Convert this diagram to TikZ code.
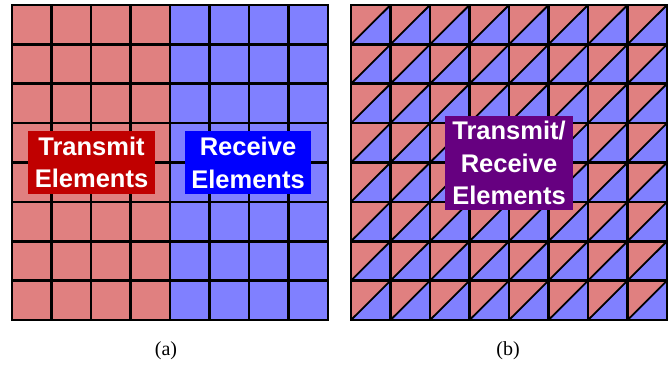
\documentclass[tikz,border=0pt]{standalone}
\usepackage{fontspec}
\setmainfont{Liberation Serif}
\newfontfamily\labfont{Liberation Sans}
\definecolor{cellred}{RGB}{224,128,128}
\definecolor{cellblue}{RGB}{128,128,255}
\definecolor{txred}{RGB}{192,0,0}
\definecolor{rxblue}{RGB}{0,0,255}
\definecolor{trxpurple}{RGB}{102,0,128}
\tikzset{
  gridline/.style={line width=2.6pt, line cap=rect},
  diagline/.style={line width=1.8pt},
  labelbox/.style={text=white, font=\labfont\bfseries\fontsize{25.5}{32.5}\selectfont, align=center, inner xsep=6pt, inner ysep=4pt},
  caption/.style={font=\fontsize{20}{22}\selectfont}
}
\begin{document}
\begin{tikzpicture}[x=1pt,y=1pt]
\useasboundingbox (0,0) rectangle (671,367);
% ---------- left grid ----------
\def\lx{12}\def\rx{351}\def\by{47}\def\cw{39.5}\def\ch{39.375}
\fill[cellred] (\lx,\by) rectangle ++(4*\cw,8*\ch);
\fill[cellblue] (\lx+4*\cw,\by) rectangle ++(4*\cw,8*\ch);
\foreach \i in {0,...,8}{
  \draw[gridline] (\lx+\i*\cw,\by) -- (\lx+\i*\cw,\by+8*\ch);
  \draw[gridline] (\lx,\by+\i*\ch) -- (\lx+8*\cw,\by+\i*\ch);
}
% ---------- right grid ----------
\fill[cellblue] (\rx,\by) rectangle ++(8*\cw,8*\ch);
\foreach \i in {0,...,7}{
  \foreach \j in {0,...,7}{
    \fill[cellred] (\rx+\i*\cw,\by+\j*\ch) -- (\rx+\i*\cw,\by+\j*\ch+\ch) -- (\rx+\i*\cw+\cw,\by+\j*\ch+\ch) -- cycle;
    \draw[diagline] (\rx+\i*\cw,\by+\j*\ch) -- (\rx+\i*\cw+\cw,\by+\j*\ch+\ch);
  }
}
\foreach \i in {0,...,8}{
  \draw[gridline] (\rx+\i*\cw,\by) -- (\rx+\i*\cw,\by+8*\ch);
  \draw[gridline] (\rx,\by+\i*\ch) -- (\rx+8*\cw,\by+\i*\ch);
}
% ---------- labels ----------
\node[labelbox, fill=txred, minimum width=127pt, minimum height=63pt] (tx) at (91.5,204.5) {Transmit\\Elements};
\node[labelbox, fill=rxblue, minimum width=126pt, minimum height=63pt] (rx) at (248,204) {Receive\\Elements};
\node[labelbox, fill=trxpurple, minimum width=128pt, minimum height=94pt] (trx) at (509,204) {Transmit/\\Receive\\Elements};
% ---------- captions ----------
\node[caption] (capa) at (166,16) {(a)};
\node[caption] (capb) at (508,16) {(b)};
\end{tikzpicture}
\end{document}
